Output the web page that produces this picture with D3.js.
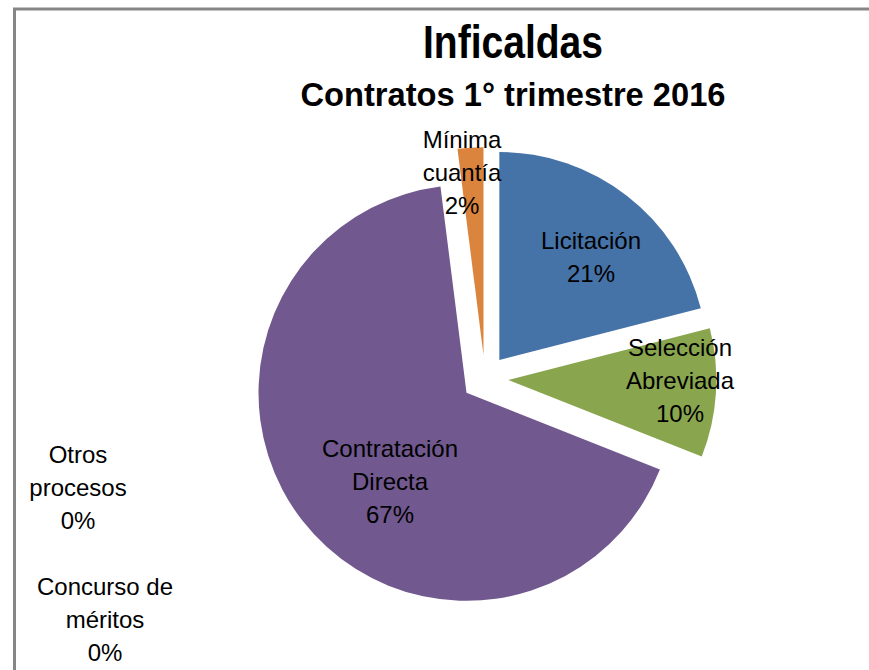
<!DOCTYPE html>
<html><head><meta charset="utf-8">
<script src="https://cdn.jsdelivr.net/npm/d3@7"></script>
<style>body{margin:0;background:#fff}svg{display:block}</style>
</head><body>
<svg id="c" width="869" height="670"></svg>
<script>
const categories = ["Licitación", "Selección Abreviada", "Concurso de méritos", "Otros procesos", "Contratación Directa", "Mínima cuantía"];
const labelLines = [["Licitación"], ["Selección", "Abreviada"], ["Concurso de", "méritos"], ["Otros", "procesos"], ["Contratación", "Directa"], ["Mínima", "cuantía"]];
const values = [21, 10, 0, 0, 67, 2];
const colors = ["#4572A7", "#89A54E", "#AA4643", "#4198AF", "#71588F", "#DB843D"];
const title = "Inficaldas";
const subtitle = "Contratos 1° trimestre 2016";
// label anchor positions (layout, not data)
const labelPos = [[591, 241], [680, 348], [105, 587], [78, 455], [390, 449], [462, 140]];

const svg = d3.select("#c");
const W = 869, H = 670;
svg.append("rect").attr("x", 14.5).attr("y", 9).attr("width", W + 20).attr("height", H + 20)
  .attr("fill", "#fff").attr("stroke", "#868686").attr("stroke-width", 3);

svg.append("text").attr("x", 513).attr("y", 58).attr("text-anchor", "middle")
  .attr("font-family", "Liberation Sans Narrow, Arial Narrow, sans-serif").attr("font-weight", "bold")
  .attr("font-size", 46).attr("fill", "#000")
  .attr("textLength", 180).attr("lengthAdjust", "spacingAndGlyphs").text(title);
svg.append("text").attr("x", 513).attr("y", 106).attr("text-anchor", "middle")
  .attr("font-family", "Liberation Sans Narrow, Arial Narrow, sans-serif").attr("font-weight", "bold")
  .attr("font-size", 33).attr("fill", "#000")
  .attr("textLength", 425).attr("lengthAdjust", "spacingAndGlyphs").text(subtitle);

const cx = 485, cy = 378.5, R = 208, explode = 23.4;
const total = d3.sum(values);
const pie = d3.pie().sort(null).value(d => d);
const arcs = pie(values);
const arc = d3.arc().innerRadius(0).outerRadius(R);
const g = svg.append("g").attr("transform", `translate(${cx},${cy})`);
g.selectAll("path").data(arcs).enter().filter(d => d.value > 0).append("path")
  .attr("d", arc)
  .attr("fill", d => colors[d.index])
  .attr("transform", d => {
    const a = (d.startAngle + d.endAngle) / 2;
    return `translate(${explode * Math.sin(a)},${-explode * Math.cos(a)})`;
  });

const lh = 33;
arcs.forEach((d, i) => {
  const lines = labelLines[i].concat([Math.round(values[i] / total * 100) + "%"]);
  const t = svg.append("text").attr("text-anchor", "middle")
    .attr("font-family", "Liberation Sans, Arial, sans-serif").attr("font-size", 24).attr("fill", "#000");
  lines.forEach((s, k) => {
    t.append("tspan").attr("x", labelPos[i][0]).attr("y", labelPos[i][1] + k * lh).attr("dy", "0.35em").text(s);
  });
});
</script>
</body></html>
